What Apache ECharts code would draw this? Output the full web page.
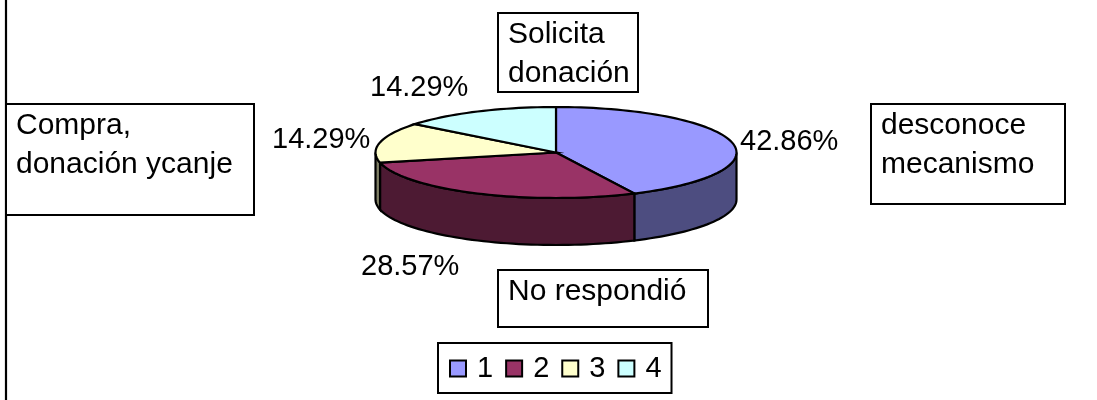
<!DOCTYPE html>
<html>
<head>
<meta charset="utf-8">
<script src="https://cdn.jsdelivr.net/npm/echarts@6/dist/echarts.min.js"></script>
<style>
html,body{margin:0;padding:0;background:#fff;}
#main{width:1097px;height:400px;}
</style>
</head>
<body>
<div id="main"></div>
<script>
var categories = ['1', '2', '3', '4'];
var shares = [42.86, 28.57, 14.29, 14.29];
var shareLabels = ['42.86%', '28.57%', '14.29%', '14.29%'];
var boxTexts = ['desconoce\nmecanismo', 'No respondió', 'Compra,\ndonación ycanje', 'Solicita\ndonación'];

var topColors = ['#9999FF', '#993366', '#FFFFCC', '#CCFFFF'];
var sideColors = ['#4D4D80', '#4D1A33', '#808066', '#668080'];

// pie layout (flattened, so the ellipse is worked out by hand)
var cx = 556, cy = 152.5, rx = 180.5, ry = 45.5, depth = 47;
var FONT = '"Liberation Sans", Arial, sans-serif';
var FONT_SIZE = 29;
var BOX_FONT_SIZE = 30;
var labelPos = [[740, 142], [361, 267], [272, 140], [370, 88]];
var boxPos = [[871, 104, 194, 100], [498, 270, 210, 57], [6, 104, 248, 111], [498, 13, 140, 79]];

var total = shares.reduce(function(a, b){ return a + b; }, 0);

function ellipsePts(a0, a1, dy){
    var pts = [];
    var n = Math.max(2, Math.ceil((a1 - a0) / 2));
    for (var i = 0; i <= n; i++) {
        var a = (a0 + (a1 - a0) * i / n) * Math.PI / 180;
        pts.push([cx + rx * Math.sin(a), cy - ry * Math.cos(a) + dy]);
    }
    return pts;
}

function sliceAngles(idx){
    var before = 0;
    for (var i = 0; i < idx; i++) before += shares[i];
    return [before / total * 360, (before + shares[idx]) / total * 360];
}

function renderSlice(idx){
    return function(params, api){
        var ang = sliceAngles(idx);
        var children = [];
        var sideFrom = Math.max(ang[0], 90), sideTo = Math.min(ang[1], 270);
        if (sideTo > sideFrom) {
            var upper = ellipsePts(sideFrom, sideTo, 0);
            var lower = ellipsePts(sideFrom, sideTo, depth).reverse();
            children.push({
                type: 'polygon',
                shape: {points: upper.concat(lower)},
                style: {fill: sideColors[idx], stroke: '#000', lineWidth: 2.2}
            });
        }
        children.push({
            type: 'polygon',
            shape: {points: [[cx, cy]].concat(ellipsePts(ang[0], ang[1], 0))},
            style: {fill: topColors[idx], stroke: '#000', lineWidth: 2.2}
        });
        children.push({
            type: 'text',
            style: {
                x: labelPos[idx][0], y: labelPos[idx][1],
                text: shareLabels[idx],
                font: FONT_SIZE + 'px ' + FONT,
                fill: '#000', verticalAlign: 'middle', align: 'left'
            },
            z2: 10
        });
        return {type: 'group', children: children};
    };
}

var series = [];
for (var i = 0; i < categories.length; i++) {
    series.push({
        name: categories[i],
        type: 'custom',
        coordinateSystem: 'none',
        itemStyle: {color: topColors[i]},
        renderItem: renderSlice(i),
        data: [[shares[i]]],
        silent: true
    });
}

var graphics = [{
    type: 'line',
    shape: {x1: 6, y1: 0, x2: 6, y2: 400},
    style: {stroke: '#000', lineWidth: 2.2}
}];
for (var j = 0; j < boxTexts.length; j++) {
    graphics.push({
        type: 'rect',
        shape: {x: boxPos[j][0], y: boxPos[j][1], width: boxPos[j][2], height: boxPos[j][3]},
        style: {fill: '#fff', stroke: '#000', lineWidth: 2}
    });
    graphics.push({
        type: 'text',
        x: boxPos[j][0] + 10,
        y: boxPos[j][1] + 2,
        style: {text: boxTexts[j], font: BOX_FONT_SIZE + 'px ' + FONT, fill: '#000', lineHeight: 39}
    });
}

var myChart = echarts.init(document.getElementById('main'), null, {renderer: 'canvas'});
myChart.setOption({
    animation: false,
    backgroundColor: '#fff',
    color: topColors,
    legend: {
        left: 438,
        top: 343,
        orient: 'horizontal',
        padding: [11, 10, 10, 11],
        itemGap: 12,
        itemWidth: 16,
        itemHeight: 16,
        icon: 'rect',
        borderColor: '#000',
        borderWidth: 2,
        backgroundColor: '#fff',
        itemStyle: {borderColor: '#000', borderWidth: 2},
        textStyle: {fontFamily: FONT, fontSize: FONT_SIZE, color: '#000', padding: [0, 0, 8, 6]},
        data: categories
    },
    graphic: graphics,
    series: series
});
</script>
</body>
</html>
